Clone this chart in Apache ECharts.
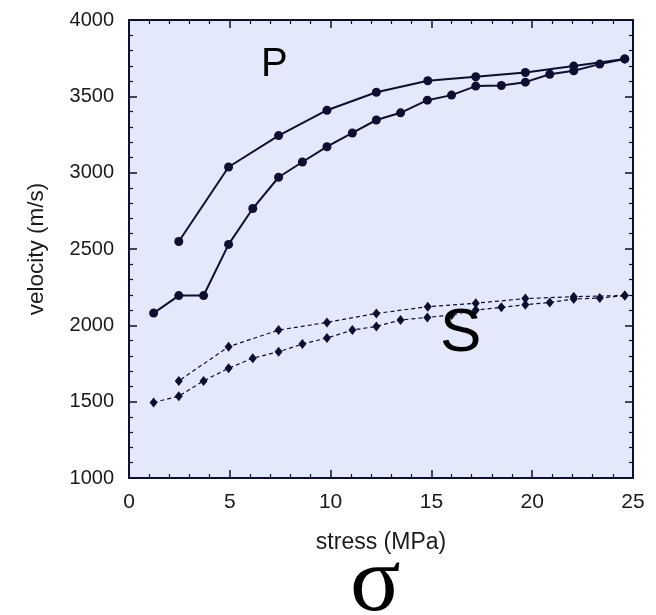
<!DOCTYPE html>
<html>
<head>
<meta charset="utf-8">
<script src="https://cdn.jsdelivr.net/npm/echarts@6/dist/echarts.min.js"></script>
<style>
  html, body { margin: 0; padding: 0; background: #ffffff; }
  #chart { width: 656px; height: 615px; }
</style>
</head>
<body>
<div id="chart"></div>
<script>
// Stress steps (MPa) on the loading path and on the unloading path
const stressLoading = [1.22, 2.47, 3.7, 4.94, 6.14, 7.42, 8.6, 9.82, 11.08, 12.27,
                       13.47, 14.8, 16.0, 17.2, 18.47, 19.66, 20.87, 22.06, 23.35, 24.59];
const stressUnloading = [24.59, 22.06, 19.66, 17.2, 14.82, 12.27, 9.82, 7.42, 4.94, 2.47];

// P-wave velocity (m/s)
const vpLoading = [2080, 2195, 2195, 2530, 2765, 2970, 3070, 3170, 3260, 3345,
                   3392, 3475, 3508, 3567, 3571, 3593, 3645, 3667, 3711, 3745];
const vpUnloading = [3745, 3698, 3656, 3628, 3602, 3527, 3409, 3243, 3037, 2549];

// S-wave velocity (m/s)
const vsLoading = [1495, 1536, 1636, 1719, 1785, 1827, 1877, 1917, 1969, 1993,
                   2035, 2052, 2068, 2100, 2118, 2135, 2150, 2172, 2179, 2195];
const vsUnloading = [2195, 2188, 2175, 2145, 2122, 2078, 2019, 1969, 1860, 1636];

// Axis ticks
const xTicks = { min: 0, max: 25, interval: 5 };
const yTicks = { min: 1000, max: 4000, interval: 500 };

const ink = '#0b1030';
const labelFont = 'Liberation Sans, Arial, sans-serif';

function pairs(xs, ys) { return xs.map((x, i) => [x, ys[i]]); }

function frameAxis(extra) {
  return Object.assign({
    type: 'value',
    axisLine: { show: true, onZero: false, lineStyle: { color: ink, width: 2 } },
    axisTick: { show: true, inside: true, length: 8, lineStyle: { color: ink, width: 1.5 } },
    minorTick: { show: true, splitNumber: 5, length: 4, lineStyle: { color: ink, width: 1.2 } },
    splitLine: { show: false },
    minorSplitLine: { show: false }
  }, extra);
}

const pLine = { color: ink, width: 2 };
const sLine = { color: ink, width: 1.2, type: [4, 3] };

const chart = echarts.init(document.getElementById('chart'), null, { renderer: 'canvas' });
chart.setOption({
  backgroundColor: '#ffffff',
  animation: false,
  grid: {
    left: 129, top: 20, right: 23, bottom: 137,
    show: true, backgroundColor: '#e3e8fa', borderColor: ink, borderWidth: 0,
    containLabel: false, outerBoundsMode: 'none'
  },
  xAxis: [
    frameAxis({
      position: 'bottom', min: xTicks.min, max: xTicks.max, interval: xTicks.interval,
      name: 'stress (MPa)', nameLocation: 'middle', nameGap: 53,
      nameTextStyle: { fontFamily: labelFont, fontSize: 23, color: '#1a1a1a' },
      axisLabel: { margin: 14, fontFamily: labelFont, fontSize: 21, color: '#1a1a1a',
                   formatter: v => String(v) }
    }),
    frameAxis({
      position: 'top', min: xTicks.min, max: xTicks.max, interval: xTicks.interval,
      axisLabel: { show: false }
    })
  ],
  yAxis: [
    frameAxis({
      position: 'left', min: yTicks.min, max: yTicks.max, interval: yTicks.interval,
      name: 'velocity (m/s)', nameLocation: 'middle', nameGap: 81,
      nameTextStyle: { fontFamily: labelFont, fontSize: 22.5, color: '#1a1a1a' },
      axisLabel: { margin: 15, fontFamily: labelFont, fontSize: 20, color: '#1a1a1a',
                   formatter: v => String(v) }
    }),
    frameAxis({
      position: 'right', min: yTicks.min, max: yTicks.max, interval: yTicks.interval,
      axisLabel: { show: false }
    })
  ],
  series: [
    {
      name: 'P loading', type: 'line', data: pairs(stressLoading, vpLoading),
      symbol: 'circle', symbolSize: 9, lineStyle: pLine, itemStyle: { color: ink }
    },
    {
      name: 'P unloading', type: 'line', data: pairs(stressUnloading, vpUnloading),
      symbol: 'circle', symbolSize: 9, lineStyle: pLine, itemStyle: { color: ink }
    },
    {
      name: 'S loading', type: 'line', data: pairs(stressLoading, vsLoading),
      symbol: 'diamond', symbolSize: [8, 10], lineStyle: sLine, itemStyle: { color: ink }
    },
    {
      name: 'S unloading', type: 'line', data: pairs(stressUnloading, vsUnloading),
      symbol: 'diamond', symbolSize: [8, 10], lineStyle: sLine, itemStyle: { color: ink }
    }
  ],
  graphic: [
    {
      type: 'text', left: 261, top: 45, z: 10,
      style: { text: 'P', font: '40px "Liberation Sans", Arial, sans-serif', fill: '#000000' }
    },
    {
      type: 'text', left: 440, top: 303, z: 10,
      style: { text: 'S', font: '62px "Liberation Sans", Arial, sans-serif', fill: '#000000' }
    },
    {
      type: 'text', left: 350, top: 538, z: 10,
      style: { text: 'σ', font: '94px "Liberation Serif", "Times New Roman", serif', fill: '#000000' }
    }
  ]
});
</script>
</body>
</html>
